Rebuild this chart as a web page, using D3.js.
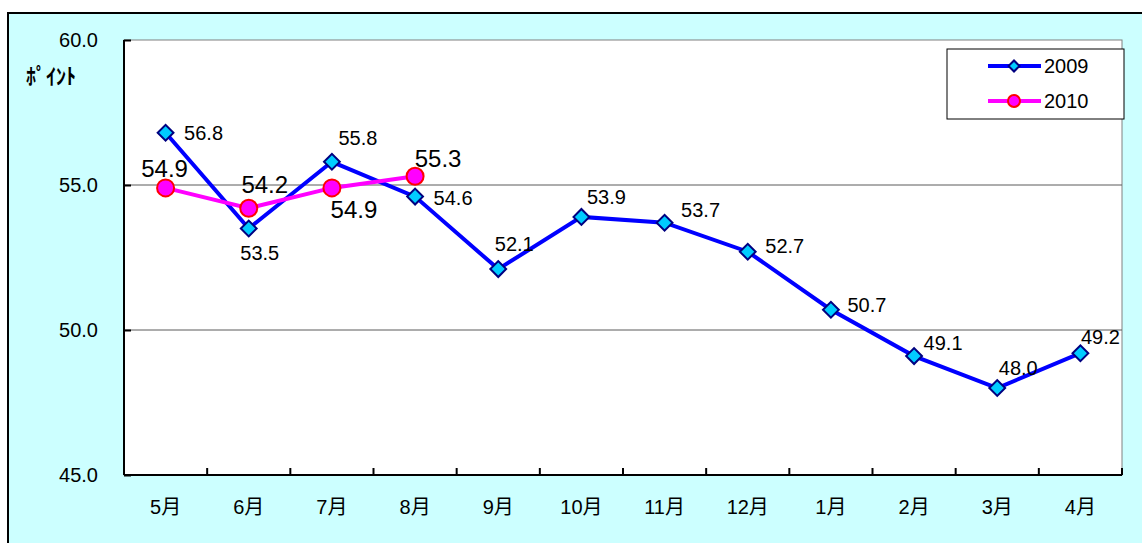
<!DOCTYPE html>
<html>
<head>
<meta charset="utf-8">
<script src="https://cdn.jsdelivr.net/npm/d3@7"></script>
<style>
  body { margin: 0; background: #fff; }
  svg { display: block; font-family: "Liberation Sans", Arial, sans-serif; }
</style>
</head>
<body>
<div class="chart-container"></div>
<script>
const months = ["5月", "6月", "7月", "8月", "9月", "10月", "11月", "12月", "1月", "2月", "3月", "4月"];
const values2009 = [56.8, 53.5, 55.8, 54.6, 52.1, 53.9, 53.7, 52.7, 50.7, 49.1, 48.0, 49.2];
const values2010 = [54.9, 54.2, 54.9, 55.3];
const yTicks = [45, 50, 55, 60];

// label offsets (dx, dy from the point), kept apart from the values
const offsets2009 = [[38, 0], [11, 24], [26, -24], [38, 1], [16, -25], [25, -20], [36, -13], [37, -6], [36, -5], [29, -13], [21, -20], [20, -16]];
const offsets2010 = [[-1, -19], [16, -24], [22, 22], [23, -18]];

const width = 1142, height = 543;
const margin = { top: 40, left: 124 };
const plotW = 1122 - margin.left;
const plotH = 475 - margin.top;

const svg = d3.select(".chart-container")
    .append("svg")
    .attr("width", width)
    .attr("height", height);

// background panel
svg.append("rect")
    .attr("x", 8).attr("y", 13)
    .attr("width", 1140).attr("height", 560)
    .attr("fill", "#ccffff")
    .attr("stroke", "#000")
    .attr("stroke-width", 2);

const g = svg.append("g")
    .attr("transform", `translate(${margin.left}, ${margin.top})`);

const xScale = d3.scaleBand()
    .domain(months)
    .range([0, plotW]);

const yScale = d3.scaleLinear()
    .domain([45, 60])
    .range([plotH, 0]);

const xPos = i => xScale(months[i]) + xScale.bandwidth() / 2;

g.append("rect")
    .attr("width", plotW).attr("height", plotH)
    .attr("fill", "#fff")
    .attr("stroke", "#808080")
    .attr("stroke-width", 1);

// gridlines
g.selectAll(".grid")
    .data(yTicks.filter(d => d > 45 && d < 60))
    .enter().append("line")
    .attr("x1", 0).attr("x2", plotW)
    .attr("y1", d => yScale(d)).attr("y2", d => yScale(d))
    .attr("stroke", "#5a5a5a")
    .attr("stroke-width", 1);

// axes
const yAxis = d3.axisRight(yScale)
    .tickValues(yTicks)
    .tickSize(7)
    .tickFormat("");
g.append("g").call(yAxis)
    .call(s => s.select(".domain").remove())
    .selectAll("line").attr("stroke", "#000").attr("stroke-width", 2);

g.append("line")
    .attr("x1", 0).attr("x2", 0).attr("y1", 0).attr("y2", plotH)
    .attr("stroke", "#000").attr("stroke-width", 2);

g.selectAll(".xtick")
    .data(d3.range(months.length + 1))
    .enter().append("line")
    .attr("x1", i => i * xScale.bandwidth()).attr("x2", i => i * xScale.bandwidth())
    .attr("y1", plotH - 7).attr("y2", plotH)
    .attr("stroke", "#000").attr("stroke-width", 2);

g.append("line")
    .attr("x1", 0).attr("x2", plotW).attr("y1", plotH).attr("y2", plotH)
    .attr("stroke", "#000").attr("stroke-width", 2);

g.selectAll(".ylabel")
    .data(yTicks)
    .enter().append("text")
    .attr("x", -26)
    .attr("y", d => yScale(d))
    .attr("dy", "0.35em")
    .attr("text-anchor", "end")
    .attr("font-size", 20)
    .text(d => d.toFixed(1));

g.selectAll(".xlabel")
    .data(months)
    .enter().append("text")
    .attr("x", (d, i) => xPos(i))
    .attr("y", plotH + 32)
    .attr("dy", "0.35em")
    .attr("text-anchor", "middle")
    .attr("font-size", 20)
    .attr("font-family", "'Liberation Sans', 'Noto Sans CJK JP', sans-serif")
    .text(d => d);

svg.append("text")
    .attr("x", 26).attr("y", 84)
    .attr("font-size", 22)
    .attr("font-weight", "bold")
    .attr("textLength", 50)
    .attr("lengthAdjust", "spacingAndGlyphs")
    .attr("font-family", "'Noto Sans CJK JP', sans-serif")
    .text("ﾎﾟｲﾝﾄ");

// lines
const line = d3.line()
    .x((d, i) => xPos(i))
    .y(d => yScale(d));

g.append("path")
    .datum(values2009)
    .attr("d", line)
    .attr("fill", "none")
    .attr("stroke", "#0000ff")
    .attr("stroke-width", 4);

g.append("path")
    .datum(values2010)
    .attr("d", line)
    .attr("fill", "none")
    .attr("stroke", "#ff00ff")
    .attr("stroke-width", 4);

const diamond = d3.symbol().type(d3.symbolSquare).size(125);

g.selectAll(".m2009")
    .data(values2009)
    .enter().append("path")
    .attr("d", diamond)
    .attr("transform", (d, i) => `translate(${xPos(i)}, ${yScale(d)}) rotate(45)`)
    .attr("fill", "#00ccff")
    .attr("stroke", "#000080")
    .attr("stroke-width", 2);

g.selectAll(".m2010")
    .data(values2010)
    .enter().append("circle")
    .attr("cx", (d, i) => xPos(i))
    .attr("cy", d => yScale(d))
    .attr("r", 8.5)
    .attr("fill", "#ff00ff")
    .attr("stroke", "#ff0000")
    .attr("stroke-width", 2);

// data labels
g.selectAll(".l2009")
    .data(values2009)
    .enter().append("text")
    .attr("x", (d, i) => xPos(i) + offsets2009[i][0])
    .attr("y", (d, i) => yScale(d) + offsets2009[i][1])
    .attr("dy", "0.35em")
    .attr("text-anchor", "middle")
    .attr("font-size", 20)
    .text(d => d.toFixed(1));

g.selectAll(".l2010")
    .data(values2010)
    .enter().append("text")
    .attr("x", (d, i) => xPos(i) + offsets2010[i][0])
    .attr("y", (d, i) => yScale(d) + offsets2010[i][1])
    .attr("dy", "0.35em")
    .attr("text-anchor", "middle")
    .attr("font-size", 24)
    .text(d => d.toFixed(1));

// legend
const legend = svg.append("g").attr("transform", "translate(947, 49)");
legend.append("rect")
    .attr("width", 177).attr("height", 70)
    .attr("fill", "#fff")
    .attr("stroke", "#000")
    .attr("stroke-width", 1);

const legendItems = [
    { name: "2009", color: "#0000ff", y: 17 },
    { name: "2010", color: "#ff00ff", y: 52 }
];
legendItems.forEach((item, k) => {
    legend.append("line")
        .attr("x1", 41).attr("x2", 94)
        .attr("y1", item.y).attr("y2", item.y)
        .attr("stroke", item.color)
        .attr("stroke-width", 4);
    if (k === 0) {
        legend.append("path")
            .attr("d", d3.symbol().type(d3.symbolSquare).size(60))
            .attr("transform", `translate(67, ${item.y}) rotate(45)`)
            .attr("fill", "#00ccff")
            .attr("stroke", "#000080")
            .attr("stroke-width", 2);
    } else {
        legend.append("circle")
            .attr("cx", 67).attr("cy", item.y).attr("r", 6)
            .attr("fill", "#ff00ff")
            .attr("stroke", "#ff0000")
            .attr("stroke-width", 2);
    }
    legend.append("text")
        .attr("x", 97).attr("y", item.y)
        .attr("dy", "0.35em")
        .attr("font-size", 20)
        .text(item.name);
});
</script>
</body>
</html>
